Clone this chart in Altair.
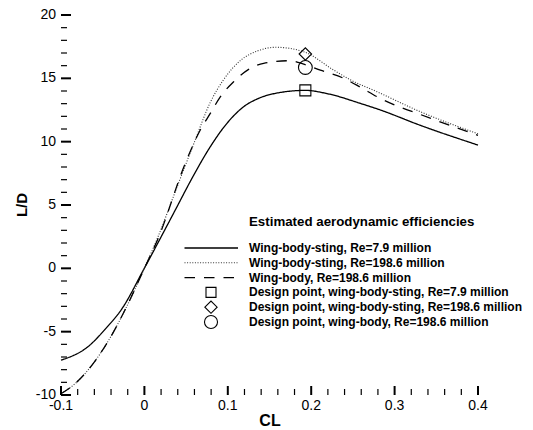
import altair as alt
import pandas as pd

# ---- data ----
# Wing-body-sting, Re=7.9 million (solid)
cl_wbs_79 = [-0.100, -0.067, -0.047, -0.027, 0.000, 0.037, 0.057, 0.079, 0.099,
             0.119, 0.137, 0.160, 0.193, 0.220, 0.259, 0.283, 0.330, 0.400]
ld_wbs_79 = [-7.25, -6.15, -4.80, -3.20, 0.02, 4.60, 7.10, 9.60, 11.45,
             12.76, 13.42, 13.85, 14.05, 13.78, 13.02, 12.50, 11.31, 9.73]

# Wing-body-sting, Re=198.6 million (dotted)
cl_wbs_1986 = [-0.100, -0.083, -0.059, -0.039, -0.023, 0.000, 0.017, 0.039, 0.059,
               0.079, 0.095, 0.115, 0.137, 0.158, 0.191, 0.227, 0.247, 0.279, 0.331, 0.400]
ld_wbs_1986 = [-9.90, -9.10, -7.30, -5.25, -3.25, 0.00, 2.60, 6.40, 9.80,
               13.10, 14.90, 16.40, 17.20, 17.45, 17.10, 15.65, 14.88, 13.94, 12.36, 10.62]

# Wing-body, Re=198.6 million (dashed)
cl_wb_1986 = [-0.100, -0.083, -0.059, -0.039, -0.023, 0.000, 0.017, 0.049, 0.067,
              0.079, 0.091, 0.107, 0.125, 0.143, 0.175, 0.192, 0.211, 0.239, 0.259,
              0.279, 0.346, 0.400]
ld_wb_1986 = [-9.90, -9.10, -7.30, -5.25, -3.25, 0.00, 2.45, 8.29, 10.92,
              12.23, 13.54, 14.73, 15.71, 16.18, 16.39, 16.10, 15.65, 15.00, 14.30,
              13.55, 11.78, 10.50]

# Design points
dp_names = ["Design point, wing-body-sting, Re=7.9 million",
            "Design point, wing-body-sting, Re=198.6 million",
            "Design point, wing-body, Re=198.6 million"]
dp_cl = [0.193, 0.193, 0.193]
dp_ld = [14.05, 16.92, 15.86]
dp_shapes = ["square", "diamond", "circle"]

line_names = ["Wing-body-sting, Re=7.9 million",
              "Wing-body-sting, Re=198.6 million",
              "Wing-body, Re=198.6 million"]
legend_title = "Estimated aerodynamic efficiencies"

x_major = [-0.1, 0.0, 0.1, 0.2, 0.3, 0.4]
x_labels = ["-0.1", "0", "0.1", "0.2", "0.3", "0.4"]
y_major = [-10, -5, 0, 5, 10, 15, 20]
y_labels = ["-10", "-5", "0", "5", "10", "15", "20"]
x_title = "CL"
y_title = "L/D"

# ---- layout ----
W, H = 417, 380
FONT = "Liberation Sans"
xs = alt.Scale(domain=[-0.1, 0.4], nice=False, zero=False)
ys = alt.Scale(domain=[-10, 20], nice=False, zero=False)

x_minor = [round(-0.1 + 0.02 * i, 2) for i in range(26)]
x_minor = [v for v in x_minor if all(abs(v - m) > 1e-9 for m in x_major)]
y_minor = [v for v in range(-10, 21) if v not in y_major]

dash_styles = [[1, 0], [1, 1.6], [10.5, 9]]
stroke_widths = [1.3, 1.1, 1.3]
stroke_colors = ["black", "#333333", "black"]

curves = [(cl_wbs_79, ld_wbs_79), (cl_wbs_1986, ld_wbs_1986), (cl_wb_1986, ld_wb_1986)]

x_axis = alt.Axis(values=x_major, ticks=False, grid=False, labels=False, title=None,
                  domain=True, domainColor="black", domainWidth=2.2)
y_axis = alt.Axis(values=y_major, ticks=False, grid=False, labels=False, title=None,
                  domain=True, domainColor="black", domainWidth=2.2)

layers = []
for i, (cl, ld) in enumerate(curves):
    df = pd.DataFrame({"CL": cl, "LD": ld})
    layers.append(
        alt.Chart(df).mark_line(interpolate="monotone", color=stroke_colors[i],
                                strokeWidth=stroke_widths[i], strokeDash=dash_styles[i])
        .encode(x=alt.X("CL:Q", scale=xs, axis=x_axis if i == 0 else None),
                y=alt.Y("LD:Q", scale=ys, axis=y_axis if i == 0 else None))
    )

# design-point markers
dp_df = pd.DataFrame({"CL": dp_cl, "LD": dp_ld, "name": dp_names})
shape_scale = alt.Scale(domain=dp_names, range=dp_shapes)
layers.append(
    alt.Chart(dp_df).mark_point(filled=False, color="black", strokeWidth=1.1, opacity=1)
    .encode(x=alt.X("CL:Q", scale=xs, axis=None),
            y=alt.Y("LD:Q", scale=ys, axis=None),
            shape=alt.Shape("name:N", scale=shape_scale, legend=None),
            size=alt.Size("name:N", scale=alt.Scale(domain=dp_names, range=[121, 190, 170]), legend=None))
)

# inward ticks
def yticks(vals, length, width):
    return alt.Chart(pd.DataFrame({"v": vals})).mark_rule(color="black", strokeWidth=width).encode(
        y=alt.Y("v:Q", scale=ys, axis=None), x=alt.value(0), x2=alt.value(length))

def xticks(vals, length, width):
    return alt.Chart(pd.DataFrame({"v": vals})).mark_rule(color="black", strokeWidth=width).encode(
        x=alt.X("v:Q", scale=xs, axis=None), y=alt.value(H), y2=alt.value(H - length))

layers += [yticks(y_major, 10, 2), yticks(y_minor, 6, 1.2),
           xticks(x_major, 9, 2), xticks(x_minor, 6, 1.2)]

# tick labels and axis titles
layers.append(
    alt.Chart(pd.DataFrame({"v": y_major, "t": y_labels}))
    .mark_text(align="right", baseline="middle", font=FONT, fontSize=14, color="black")
    .encode(y=alt.Y("v:Q", scale=ys, axis=None), x=alt.value(-5), text="t:N")
)
layers.append(
    alt.Chart(pd.DataFrame({"v": x_major, "t": x_labels}))
    .mark_text(align="center", baseline="top", font=FONT, fontSize=14, color="black")
    .encode(x=alt.X("v:Q", scale=xs, axis=None), y=alt.value(H + 4), text="t:N")
)
one = pd.DataFrame({"a": [0]})
layers.append(
    alt.Chart(one).mark_text(text=y_title, angle=270, align="center", baseline="middle",
                             font=FONT, fontSize=15, fontWeight="bold", color="black")
    .encode(x=alt.value(-39), y=alt.value(190))
)
layers.append(
    alt.Chart(one).mark_text(text=x_title, align="center", baseline="middle",
                             font=FONT, fontSize=16, fontWeight="bold", color="black")
    .encode(x=alt.value(209), y=alt.value(406))
)

# legend (annotation in pixel space)
LX_LINE0, LX_LINE1, LX_SYM, LX_TEXT = 123.5, 177, 150, 188
LY_TITLE, LY0, LDY = 207, 233, 14.8
layers.append(
    alt.Chart(one).mark_text(text=legend_title, align="left", baseline="middle",
                             font=FONT, fontSize=13.3, fontWeight="bold", color="black")
    .encode(x=alt.value(LX_TEXT), y=alt.value(LY_TITLE))
)
all_names = line_names + dp_names
for i, name in enumerate(all_names):
    yy = LY0 + LDY * i
    layers.append(
        alt.Chart(one).mark_text(text=name, align="left", baseline="middle",
                                 font=FONT, fontSize=12, fontWeight="bold", color="black")
        .encode(x=alt.value(LX_TEXT), y=alt.value(yy))
    )
    if i < 3:
        layers.append(
            alt.Chart(one).mark_rule(color=stroke_colors[i], strokeWidth=stroke_widths[i],
                                     strokeDash=dash_styles[i])
            .encode(x=alt.value(LX_LINE0), x2=alt.value(LX_LINE1), y=alt.value(yy))
        )
    else:
        j = i - 3
        layers.append(
            alt.Chart(one).mark_point(shape=dp_shapes[j], filled=False, color="black",
                                      strokeWidth=1.1, opacity=1, size=[100, 150, 170][j])
            .encode(x=alt.value(LX_SYM), y=alt.value(yy))
        )

chart = alt.layer(*layers).properties(
    width=W, height=H,
    padding={"left": 61, "top": 15, "right": 55, "bottom": 35},
    autosize=alt.AutoSizeParams(type="none"),
    background="white",
).configure_view(stroke=None)

chart.save("out.html", embed_options={"renderer": "svg", "actions": False})
